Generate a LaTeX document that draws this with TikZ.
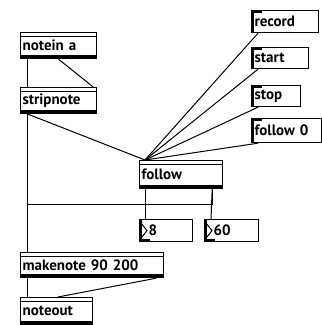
\documentclass[tikz,border=0pt]{standalone}
\usepackage{fontspec}
\setmainfont{PT Sans}
\begin{document}
\begin{tikzpicture}[x=1pt,y=-1pt,
    every node/.style={anchor=north west,draw,line width=1.2pt,inner xsep=2pt,inner ysep=0pt,
      align=left,font=\fontsize{15}{17}\selectfont\bfseries},
    objbox/.style={path picture={
      \fill ([yshift=-3pt]path picture bounding box.north west) rectangle ([yshift=-4.2pt]path picture bounding box.north east);
      \fill (path picture bounding box.south west) rectangle ([yshift=3.2pt]path picture bounding box.south east);}},
    msgbox/.style={inner xsep=3pt,path picture={
      \fill (path picture bounding box.south west) rectangle ([xshift=2.2pt]path picture bounding box.north west);
      \fill (path picture bounding box.north west) rectangle ([xshift=10pt,yshift=-2.5pt]path picture bounding box.north west);}},
    numbox/.style={minimum height=22pt,path picture={
      \fill (path picture bounding box.south west) rectangle ([xshift=2pt]path picture bounding box.north west);
      \fill (path picture bounding box.south west) rectangle ([xshift=10pt,yshift=2.5pt]path picture bounding box.south west);}},
    cord/.style={line width=1pt}]
  \useasboundingbox (0,0) rectangle (322,325);
  \node[objbox,text width=72pt,minimum height=26pt] (notein) at (20,32) {notein a};
  \node[objbox,text width=72pt,minimum height=26pt] (stripnote) at (20,87) {stripnote};
  \node[objbox,text width=79pt,minimum height=28pt] (follow) at (139,160) {follow};
  \node[numbox,text width=49pt] (num8) at (139,219) {\hspace*{7pt}8};
  \node[numbox,text width=50pt] (num60) at (204,219) {\hspace*{7pt}60};
  \node[objbox,text width=139pt,minimum height=25pt] (makenote) at (20,252) {makenote 90 200};
  \node[objbox,text width=68pt,minimum height=27pt] (noteout) at (20,297) {noteout};
  \node[msgbox,text width=61pt,minimum height=22pt] (record) at (251,10) {record};
  \node[msgbox,text width=51pt,minimum height=21pt] (start) at (251,47) {start};
  \node[msgbox,text width=43pt,minimum height=21pt] (stop) at (251,85) {stop};
  \node[msgbox,text width=64pt,minimum height=24pt] (follow0) at (251,118) {follow 0};
  \foreach \n in {num8,num60}
    \draw[line width=1pt] ([xshift=2pt,yshift=-4pt]\n.north west) -- ([xshift=8pt]\n.west)
      -- ([xshift=2pt,yshift=4pt]\n.south west);
  \coordinate (bend) at (28,204);
  \draw[cord] ([xshift=8pt]notein.south west) -- ([xshift=8pt]stripnote.north west);
  \draw[cord] (notein.south) -- ([xshift=-4pt]stripnote.north east);
  \draw[cord] ([xshift=8pt]stripnote.south west) -- ([xshift=8pt]makenote.north west);
  \draw[cord] ([xshift=8pt]stripnote.south west) -- ([xshift=6pt]follow.north west);
  \foreach \m in {record,start,stop,follow0}
    \draw[cord] ([xshift=7pt]\m.south west) -- ([xshift=6pt]follow.north west);
  \draw[cord] ([xshift=7pt]follow.south west) -- ([xshift=7pt]num8.north west);
  \draw[cord] ([xshift=-11pt]follow.south east) -- ([xshift=7pt]num60.north west);
  \draw[cord] ([xshift=-11pt]follow.south east) |- (bend) -- ([xshift=8pt]makenote.north west);
  \draw[cord] ([xshift=8pt]makenote.south west) -- ([xshift=8pt]noteout.north west);
  \draw[cord] ([xshift=-8pt]makenote.south east) -- ([xshift=38pt]noteout.north west);
\end{tikzpicture}
\end{document}
